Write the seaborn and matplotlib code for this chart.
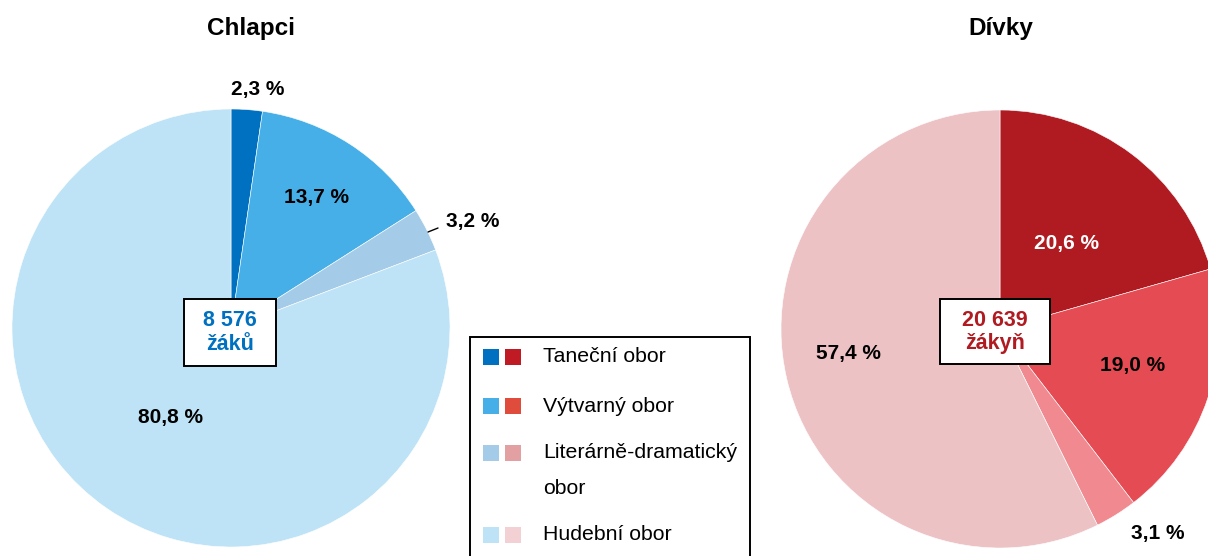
import numpy as np
import matplotlib
matplotlib.use("Agg")
import matplotlib.pyplot as plt
from matplotlib.patches import Rectangle
import seaborn as sns

# data
obory = ["Taneční obor", "Výtvarný obor", "Literárně-dramatický\nobor", "Hudební obor"]
chlapci = [2.3, 13.7, 3.2, 80.8]
divky = [20.6, 19.0, 3.1, 57.4]
celkem_chlapci = "8 576\nžáků"
celkem_divky = "20 639\nžákyň"

barvy_chlapci = ["#0070C0", "#47AFE8", "#A4CCE8", "#BEE3F6"]
barvy_divky = ["#B01B22", "#E54B53", "#F08A90", "#EDC2C5"]
barvy_leg_divky = ["#C01A24", "#E04C3C", "#E3A0A3", "#F2D0D4"]

sns.set_style("white")
plt.rcParams["font.family"] = ["Liberation Sans", "DejaVu Sans"]
plt.rcParams["text.color"] = "black"

W, H = 1208, 556
fig = plt.figure(figsize=(W / 100, H / 100), dpi=100)
ax = fig.add_axes([0, 0, 1, 1])


def py(y):
    # pixel y (od shora) -> data y
    return H - y


R = 219
stred_ch = (231, py(328))
stred_dv = (1000, py(329))

wp = dict(edgecolor="white", linewidth=0.4)
ax.pie(chlapci, colors=barvy_chlapci, startangle=90, counterclock=False,
       center=stred_ch, radius=R, wedgeprops=wp)
ax.pie(divky, colors=barvy_divky, startangle=90, counterclock=False,
       center=stred_dv, radius=R, wedgeprops=wp)

ax.set_xlim(0, W)
ax.set_ylim(0, H)
ax.set_aspect("equal")
ax.set_axis_off()

# titulky
ax.text(251, py(29), "Chlapci", ha="center", va="center", fontsize=17.5, fontweight="bold")
ax.text(1001, py(29), "Dívky", ha="center", va="center", fontsize=17.5, fontweight="bold")

# popisky procent (pozice v pixelech)
pos_ch = [(258, 89), (316, 197), (473, 222), (170, 418)]
pos_dv = [(1066, 243), (1133, 365), (1158, 534), (848, 354)]
for v, (x, y) in zip(chlapci, pos_ch):
    ax.text(x, py(y), f"{v:.1f} %".replace(".", ","), ha="center", va="center",
            fontsize=15, fontweight="bold", color="black")
for v, (x, y) in zip(divky, pos_dv):
    c = "white" if v == divky[0] else "black"
    ax.text(x, py(y), f"{v:.1f} %".replace(".", ","), ha="center", va="center",
            fontsize=15, fontweight="bold", color=c)

# vodici cara k 3,2 %
ax.plot([428, 438], [py(232), py(228)], color="black", lw=1)

# rámečky se součty
ax.add_patch(Rectangle((184, py(366)), 92, 67, facecolor="white", edgecolor="black", lw=1.4, zorder=5))
ax.add_patch(Rectangle((940, py(364)), 110, 65, facecolor="white", edgecolor="black", lw=1.4, zorder=5))
for (x, y), txt, c in [((230, 332), celkem_chlapci, "#0070C0"), ((995, 331), celkem_divky, "#B01B22")]:
    r1, r2 = txt.split("\n")
    ax.text(x, py(y - 11), r1, ha="center", va="center", fontsize=15.5,
            fontweight="bold", color=c, zorder=6)
    ax.text(x, py(y + 12), r2, ha="center", va="center", fontsize=15.5,
            fontweight="bold", color=c, zorder=6)

# legenda
ax.add_patch(Rectangle((470, py(580)), 280, 243, facecolor="white", edgecolor="black", lw=1.4, zorder=5))
radky = [357, 406, 453, 535]
for lab, cb, cr, y in zip(obory, barvy_chlapci, barvy_leg_divky, radky):
    ax.add_patch(Rectangle((483, py(y + 8)), 16, 16, facecolor=cb, edgecolor="none", zorder=6))
    ax.add_patch(Rectangle((505, py(y + 8)), 16, 16, facecolor=cr, edgecolor="none", zorder=6))
    for i, cast in enumerate(lab.split("\n")):
        ax.text(543, py(y + 36 * i), cast, ha="left", va="center",
                fontsize=15.3, color="black", zorder=6)

fig.savefig("out.png", dpi=100)
